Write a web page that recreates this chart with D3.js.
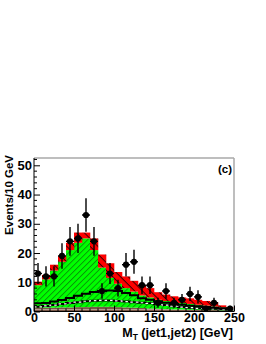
<!DOCTYPE html>
<html><head><meta charset="utf-8">
<script src="https://cdn.jsdelivr.net/npm/d3@7"></script>
<style>body{margin:0;background:#fff} text{font-family:"Liberation Sans",Arial,sans-serif;font-weight:bold}</style>
</head><body><svg id="c" width="266" height="344"></svg>
<script>
// bin low edges (GeV), width 10
const binLow = [0,10,20,30,40,50,60,70,80,90,100,110,120,130,140,150,160,170,180,190,200,210,220,230,240];
const binWidth = 10;
// stacked background contributions (bottom to top)
const layerBrown  = [1.3,1.3,1.3,1.4,1.4,1.5,1.5,1.6,1.6,1.6,1.5,1.4,1.3,1.2,1.0,0.9,0.8,0.7,0.7,0.6,0.6,0.5,0.5,0.4,0.4];
const layerDashed = [0.3,0.6,0.9,1.2,1.5,1.7,2.0,2.1,2.2,2.2,2.1,2.0,1.9,1.8,1.8,1.6,1.4,1.1,0.8,0.7,0.5,0.5,0.4,0.4,0.3];
const layerBlack  = [1.2,1.0,1.2,1.3,1.7,2.2,2.6,3.0,3.2,3.4,3.4,2.9,2.4,1.5,1.2,1.0,0.8,0.8,0.8,0.7,0.7,0.5,0.4,0.3,0.2];
const layerGreen  = [6.2,8.1,10.6,13.1,16.4,18.1,18.9,14.3,8.0,4.3,2.5,1.7,1.2,1.0,0.8,0.5,0.6,0.6,0.6,0.6,0.5,0.5,0.4,0.3,0.2];
const layerRed    = [1.2,1.5,2.0,2.0,2.5,3.5,2.0,4.0,4.5,5.0,4.0,4.0,3.7,3.5,3.2,2.6,2.2,2.0,1.9,1.9,1.7,1.6,1.5,0.7,0.4];
// observed data counts
const dataCounts  = [13,12,12,19,24,25,33,24,7,13,8,16,17,9,9,3,7,3,4,6,5,1,3,0,1];
const yTicks = [0,10,20,30,40,50];
const xTicks = [0,50,100,150,200,250];

const svg = d3.select("#c");
const L=34,R=234,T=158,B=311.5;
const x = d3.scaleLinear().domain([0,250]).range([L,R]);
const y = d3.scaleLinear().domain([0,52.5]).range([B,T]);

const defs = svg.append("defs");
function hatch(id,bg,fg,size,angle,sw){
  const p=defs.append("pattern").attr("id",id).attr("patternUnits","userSpaceOnUse")
    .attr("width",size).attr("height",size).attr("patternTransform",`rotate(${angle})`);
  p.append("rect").attr("width",size).attr("height",size).attr("fill",bg);
  p.append("line").attr("x1",0).attr("x2",size).attr("y1",0.5).attr("y2",0.5).attr("stroke",fg).attr("stroke-width",sw);
}
hatch("hg","#00ff00","#0b5a0b",4.2,-45,0.6);
hatch("hr","#ff0000","#3a0000",5.5,45,1.0);
{
  const p=defs.append("pattern").attr("id","hb").attr("patternUnits","userSpaceOnUse").attr("width",6).attr("height",3);
  p.append("rect").attr("width",6).attr("height",3).attr("fill","#7a5848");
  p.append("line").attr("x1",0).attr("x2",6).attr("y1",0.5).attr("y2",0.5).attr("stroke","#c4b0a4").attr("stroke-width",0.8);
}

const rows = binLow.map((b,i)=>({b, brown:layerBrown[i], dashed:layerDashed[i], black:layerBlack[i], green:layerGreen[i], red:layerRed[i]}));
const keys=["brown","dashed","black","green","red"];
const fills={brown:"url(#hb)",dashed:"url(#hg)",black:"url(#hg)",green:"url(#hg)",red:"url(#hr)"};
const stacked = d3.stack().keys(keys)(rows);

const g = svg.append("g");
stacked.forEach(s=>{
  g.selectAll(null).data(s).join("rect")
    .attr("x",d=>x(d.data.b)).attr("width",x(binWidth)-x(0)+0.3)
    .attr("y",d=>y(d[1])).attr("height",d=>Math.max(0,y(d[0])-y(d[1])))
    .attr("fill",fills[s.key]);
});

function stepPts(s){
  const pts=s.map(d=>[d.data.b,d[1]]);
  pts.push([250,s[s.length-1][1]]);
  return pts;
}
const step=d3.line().x(d=>x(d[0])).y(d=>y(d[1])).curve(d3.curveStepAfter);
const sd=stacked[1];
g.append("path").attr("d",step(stepPts(sd))).attr("fill","none").attr("stroke","#000").attr("stroke-width",2);
g.append("path").attr("d",step(stepPts(sd))).attr("fill","none").attr("stroke","#fff").attr("stroke-width",1.2).attr("stroke-dasharray","2.5,3");
g.append("path").attr("d",step(stepPts(stacked[2]))).attr("fill","none").attr("stroke","#000").attr("stroke-width",2);

// data points
const dp = binLow.map((b,i)=>({c:b+binWidth/2,n:dataCounts[i]})).filter(d=>d.n>0);
const pg=svg.append("g");
dp.forEach(d=>{
  const e=Math.sqrt(d.n);
  pg.append("line").attr("x1",x(d.c)).attr("x2",x(d.c)).attr("y1",y(d.n-e)).attr("y2",Math.min(B,y(d.n+e)) ).attr("stroke","#000").attr("stroke-width",1.4);
  pg.append("line").attr("x1",x(d.c-binWidth/2)).attr("x2",x(d.c+binWidth/2)).attr("y1",y(d.n)).attr("y2",y(d.n)).attr("stroke","#000").attr("stroke-width",1.4);
  pg.append("circle").attr("cx",x(d.c)).attr("cy",y(d.n)).attr("r",3.1).attr("fill","#000");
});

// frame
svg.append("line").attr("x1",L).attr("x2",R).attr("y1",T).attr("y2",T).attr("stroke","#a8a8a8").attr("stroke-width",1.5);
svg.append("line").attr("x1",R).attr("x2",R).attr("y1",T).attr("y2",B).attr("stroke","#a8a8a8").attr("stroke-width",1.5);
svg.append("line").attr("x1",L).attr("x2",L).attr("y1",T).attr("y2",B).attr("stroke","#000").attr("stroke-width",1);
svg.append("line").attr("x1",L).attr("x2",R).attr("y1",B).attr("y2",B).attr("stroke","#000").attr("stroke-width",1);

const yAx = d3.axisLeft(y).tickValues(yTicks).tickSize(-6).tickPadding(2).tickFormat(d3.format("d"));
const ya=svg.append("g").attr("transform",`translate(${L},0)`).call(yAx);
ya.select(".domain").remove();
ya.selectAll("text").attr("font-size",13).attr("font-family","Liberation Sans, Arial, sans-serif").attr("font-weight","bold").attr("fill","#000");
const yMinor=d3.range(0,52.5,2).filter(v=>v%10!==0);
svg.append("g").selectAll("line").data(yMinor).join("line").attr("x1",L).attr("x2",L+3).attr("y1",d=>y(d)).attr("y2",d=>y(d)).attr("stroke","#000");

const xAx = d3.axisBottom(x).tickValues(xTicks).tickSize(-6).tickPadding(2).tickFormat(d3.format("d"));
const xa=svg.append("g").attr("transform",`translate(0,${B})`).call(xAx);
xa.select(".domain").remove();
xa.selectAll("text").attr("font-size",12.5).attr("font-family","Liberation Sans, Arial, sans-serif").attr("font-weight","bold").attr("fill","#000");
const xMinor=d3.range(10,250,10).filter(v=>v%50!==0);
svg.append("g").selectAll("line").data(xMinor).join("line").attr("x1",d=>x(d)).attr("x2",d=>x(d)).attr("y1",B).attr("y2",B-3).attr("stroke","#000");

// titles
svg.append("text").attr("transform","translate(13,155) rotate(-90)").attr("text-anchor","end").attr("font-size",11.5).text("Events/10 GeV");
const xt=svg.append("text").attr("x",233).attr("y",337).attr("text-anchor","end").attr("font-size",12.5);
xt.append("tspan").text("M");
xt.append("tspan").attr("font-size",8.5).attr("dy",3).text("T");
xt.append("tspan").attr("dy",-3).text(" (jet1,jet2) [GeV]");
svg.append("text").attr("x",232).attr("y",173).attr("text-anchor","end").attr("font-size",11.5).text("(c)");
</script></body></html>
